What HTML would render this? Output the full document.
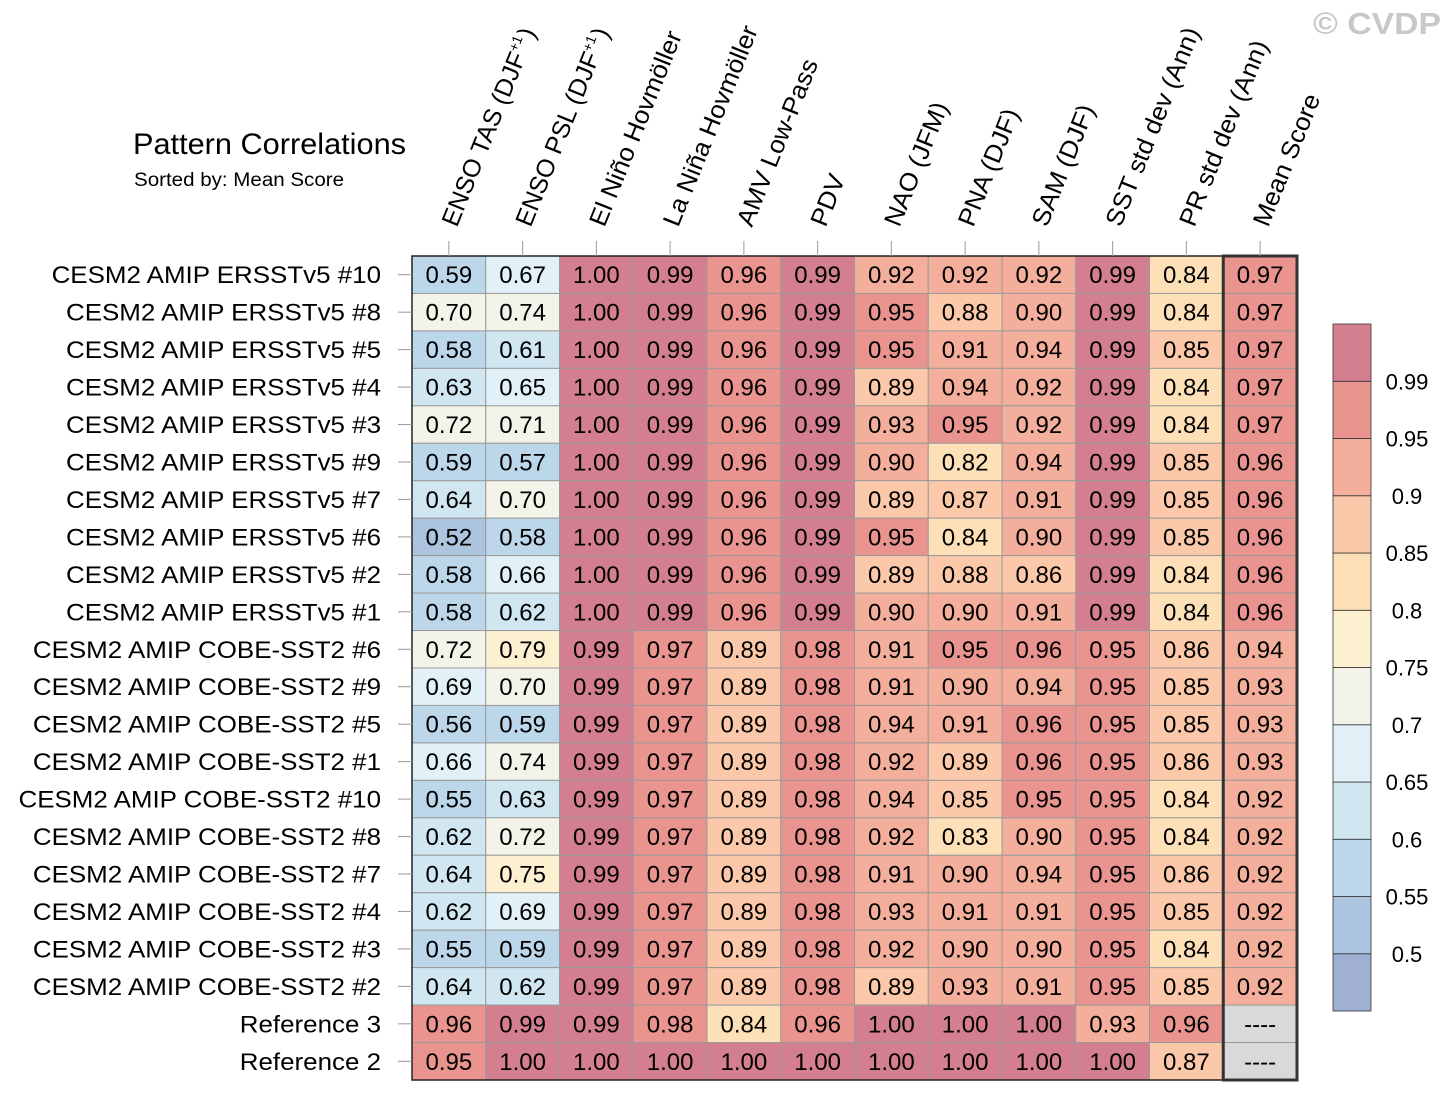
<!DOCTYPE html>
<html><head><meta charset="utf-8"><style>
html,body{margin:0;padding:0;background:#fff;}
svg{display:block;font-family:"Liberation Sans",sans-serif;}
</style></head><body>
<svg id="chart" width="1450" height="1101" viewBox="0 0 1450 1101" xmlns="http://www.w3.org/2000/svg">
<text x="1441" y="34" text-anchor="end" font-size="31" font-weight="bold" fill="#c8c8c8" textLength="128" lengthAdjust="spacingAndGlyphs">© CVDP</text>
<text x="133" y="154" font-size="30" fill="#000" textLength="273" lengthAdjust="spacingAndGlyphs">Pattern Correlations</text>
<text x="134" y="186" font-size="19" fill="#000" textLength="210" lengthAdjust="spacingAndGlyphs">Sorted by: Mean Score</text>
<g id="cells"></g>
<g id="labels"></g>
<g id="cbar"></g>
</svg>
<script>
const columns = ["ENSO TAS (DJF+1)","ENSO PSL (DJF+1)","El Niño Hovmöller","La Niña Hovmöller","AMV Low-Pass","PDV","NAO (JFM)","PNA (DJF)","SAM (DJF)","SST std dev (Ann)","PR std dev (Ann)","Mean Score"];
const rows = ["CESM2 AMIP ERSSTv5 #10","CESM2 AMIP ERSSTv5 #8","CESM2 AMIP ERSSTv5 #5","CESM2 AMIP ERSSTv5 #4","CESM2 AMIP ERSSTv5 #3","CESM2 AMIP ERSSTv5 #9","CESM2 AMIP ERSSTv5 #7","CESM2 AMIP ERSSTv5 #6","CESM2 AMIP ERSSTv5 #2","CESM2 AMIP ERSSTv5 #1","CESM2 AMIP COBE-SST2 #6","CESM2 AMIP COBE-SST2 #9","CESM2 AMIP COBE-SST2 #5","CESM2 AMIP COBE-SST2 #1","CESM2 AMIP COBE-SST2 #10","CESM2 AMIP COBE-SST2 #8","CESM2 AMIP COBE-SST2 #7","CESM2 AMIP COBE-SST2 #4","CESM2 AMIP COBE-SST2 #3","CESM2 AMIP COBE-SST2 #2","Reference 3","Reference 2"];
const values = [
[.59,.67,1.00,.99,.96,.99,.92,.92,.92,.99,.84,.97],
[.70,.74,1.00,.99,.96,.99,.95,.88,.90,.99,.84,.97],
[.58,.61,1.00,.99,.96,.99,.95,.91,.94,.99,.85,.97],
[.63,.65,1.00,.99,.96,.99,.89,.94,.92,.99,.84,.97],
[.72,.71,1.00,.99,.96,.99,.93,.95,.92,.99,.84,.97],
[.59,.57,1.00,.99,.96,.99,.90,.82,.94,.99,.85,.96],
[.64,.70,1.00,.99,.96,.99,.89,.87,.91,.99,.85,.96],
[.52,.58,1.00,.99,.96,.99,.95,.84,.90,.99,.85,.96],
[.58,.66,1.00,.99,.96,.99,.89,.88,.86,.99,.84,.96],
[.58,.62,1.00,.99,.96,.99,.90,.90,.91,.99,.84,.96],
[.72,.79,.99,.97,.89,.98,.91,.95,.96,.95,.86,.94],
[.69,.70,.99,.97,.89,.98,.91,.90,.94,.95,.85,.93],
[.56,.59,.99,.97,.89,.98,.94,.91,.96,.95,.85,.93],
[.66,.74,.99,.97,.89,.98,.92,.89,.96,.95,.86,.93],
[.55,.63,.99,.97,.89,.98,.94,.85,.95,.95,.84,.92],
[.62,.72,.99,.97,.89,.98,.92,.83,.90,.95,.84,.92],
[.64,.75,.99,.97,.89,.98,.91,.90,.94,.95,.86,.92],
[.62,.69,.99,.97,.89,.98,.93,.91,.91,.95,.85,.92],
[.55,.59,.99,.97,.89,.98,.92,.90,.90,.95,.84,.92],
[.64,.62,.99,.97,.89,.98,.89,.93,.91,.95,.85,.92],
[.96,.99,.99,.98,.84,.96,1.00,1.00,1.00,.93,.96,null],
[.95,1.00,1.00,1.00,1.00,1.00,1.00,1.00,1.00,1.00,.87,null]
];
const levels = [0.5,0.55,0.6,0.65,0.7,0.75,0.8,0.85,0.9,0.95,0.99];
const levelLabels = ["0.5","0.55","0.6","0.65","0.7","0.75","0.8","0.85","0.9","0.95","0.99"];
const palette = ["#9fb0d3","#acc4dd","#bdd7ea","#d0e6f0","#e2f1f7","#f3f3ea","#fdf0d0","#fde0b8","#fbc9a9","#f4ae9c","#ea9490","#d47f8f"];

const NS="http://www.w3.org/2000/svg";
const X0=412, Y0=256, CW=(1297-412)/12, RH=(1080-256)/22;
const xPos=i=>X0+i*CW, yPos=j=>Y0+j*RH;
function colorFor(v){let k=0;for(let i=0;i<levels.length;i++){if(v>=levels[i]-1e-9)k=i+1;}return palette[k];}
function mk(tag,attrs,parent){const e=document.createElementNS(NS,tag);for(const a in attrs)e.setAttribute(a,attrs[a]);parent.appendChild(e);return e;}
function stretch(t,f){const w=t.getComputedTextLength();if(w>0){t.setAttribute('textLength',(w*f).toFixed(1));t.setAttribute('lengthAdjust','spacingAndGlyphs');}}
const cells=document.getElementById('cells'), labels=document.getElementById('labels'), cbar=document.getElementById('cbar');

values.forEach((row,j)=>{row.forEach((v,i)=>{
  const r=mk('rect',{x:xPos(i),y:yPos(j),width:CW,height:RH,fill:v===null?'#d9d9d9':colorFor(v),stroke:'#9a9a9a','stroke-width':1},cells);
  
  
  const t=mk('text',{x:xPos(i)+CW/2,y:yPos(j)+RH/2+8.5,'text-anchor':'middle','font-size':24,fill:'#000'},cells);
  
  
  t.textContent=v===null?'----':v.toFixed(2);
});});
const ob=mk('rect',{x:X0,y:Y0,width:CW*12,height:RH*22,fill:'none',stroke:'#222','stroke-width':1.5},cells);


const mb=mk('rect',{x:xPos(11),y:Y0,width:CW,height:RH*22,fill:'none',stroke:'#333','stroke-width':3},cells);



rows.forEach((name,j)=>{
  const cy=yPos(j)+RH/2;
  const tk=mk('line',{x1:398,x2:X0,y1:cy,y2:cy,stroke:'#999','stroke-width':1},labels);
  
  
  const t=mk('text',{x:381,y:cy+8.5,'text-anchor':'end','font-size':24,fill:'#000'},labels);
  
  
  t.textContent=name;
  stretch(t,1.08);
});
columns.forEach((name,i)=>{
  const cx=xPos(i)+CW/2;
  const tk=mk('line',{x1:cx,x2:cx,y1:241,y2:Y0,stroke:'#999','stroke-width':1},labels);
  
  
  const t=mk('text',{transform:`translate(${cx+8},228) rotate(-68)`,'font-size':25,fill:'#000'},labels);
  
  
  if(name.endsWith('(DJF+1)')){
    t.textContent=name.replace('(DJF+1)','(DJF');
    const s=mk('tspan',{'font-size':14,dy:-10},t);s.textContent='+1';
    const c=mk('tspan',{dy:10,dx:2},t);c.textContent=')';
  } else { t.textContent=name; stretch(t,1.04); }
});

const CB0=324, CB1=1011, CBX=1333, CBW=38, BH=(CB1-CB0)/palette.length;
palette.forEach((c,k)=>{
  const r=mk('rect',{x:CBX,y:CB1-(k+1)*BH,width:CBW,height:BH,fill:c,stroke:'#333','stroke-width':0.8},cbar);
  
  
});
levelLabels.forEach((l,k)=>{
  const t=mk('text',{x:1407,y:CB1-(k+1)*BH+8,'text-anchor':'middle','font-size':22,fill:'#000'},cbar);
  
  
  t.textContent=l;
});
</script>
</body></html>
